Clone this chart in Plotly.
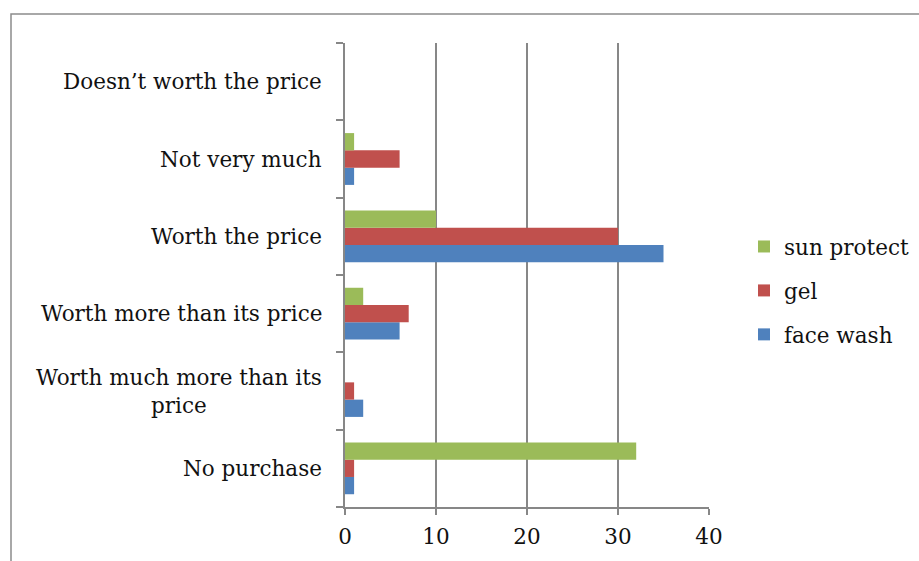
import plotly.graph_objects as go

# Survey responses: perceived value of each product line
categories = [
    "No purchase",
    "Worth much more than its price",
    "Worth more than its price",
    "Worth the price",
    "Not very much",
    "Doesn\u2019t worth the price",
]
category_labels = [
    "No purchase",
    "Worth much more than its<br>price",
    "Worth more than its price",
    "Worth the price",
    "Not very much",
    "Doesn\u2019t worth the price",
]
face_wash = [1, 2, 6, 35, 1, 0]
gel = [1, 1, 7, 30, 6, 0]
sun_protect = [32, 0, 2, 10, 1, 0]

x_ticks = [0, 10, 20, 30, 40]

FONT = "DejaVu Serif"
FSIZE = 21.5
AXIS_GREY = "#878787"
W, H = 919, 561

fig = go.Figure()
for name, vals, color, rank in [
    ("face wash", face_wash, "#4F81BD", 3),
    ("gel", gel, "#C0504D", 2),
    ("sun protect", sun_protect, "#9BBB59", 1),
]:
    fig.add_trace(go.Bar(
        y=categories, x=vals, name=name, orientation="h",
        marker=dict(color=color, line=dict(width=0)),
        legendgroup=name, legendrank=rank,
    ))

# category labels as annotations so the wrapped one is centred
for cat, lab in zip(categories, category_labels):
    fig.add_annotation(
        x=0, y=cat, xref="x", yref="y", text=lab, showarrow=False,
        xanchor="right", yanchor="middle", align="center", xshift=-21,
        font=dict(family=FONT, size=FSIZE, color="#111"),
    )

# outer frame
px0, px1, py0, py1 = 345.0, 709.0, 43.0, 507.0
def fx(p):
    return (p - px0) / (px1 - px0)
def fy(p):
    return (py1 - p) / (py1 - py0)

fig.add_shape(type="rect", xref="paper", yref="paper",
              x0=fx(11), x1=fx(930), y0=fy(575), y1=fy(14),
              line=dict(color="#8c8c8c", width=1.5), layer="below")

fig.update_layout(
    width=W, height=H,
    margin=dict(l=345, r=210, t=43, b=54, autoexpand=False),
    paper_bgcolor="white", plot_bgcolor="white",
    barmode="group", bargap=0.33, bargroupgap=0,
    font=dict(family=FONT, size=FSIZE, color="#111"),
    showlegend=True,
    legend=dict(
        xref="container", yref="container",
        x=744 / W, y=1 - 226 / H, xanchor="left", yanchor="top",
        traceorder="grouped", tracegroupgap=13,
        font=dict(family=FONT, size=FSIZE, color="#111"),
        bgcolor="rgba(0,0,0,0)",
    ),
    xaxis=dict(
        range=[0, 40], tickvals=x_ticks, ticktext=[str(v) for v in x_ticks],
        showgrid=True, gridcolor=AXIS_GREY, gridwidth=1.5,
        showline=True, linecolor=AXIS_GREY, linewidth=1.5,
        ticks="outside", ticklen=6, tickwidth=1.5, tickcolor=AXIS_GREY,
        zeroline=False, ticklabelstandoff=3, automargin=False,
        tickfont=dict(family=FONT, size=FSIZE, color="#111"),
        fixedrange=True,
    ),
    yaxis=dict(
        type="category", categoryorder="array", categoryarray=categories,
        showticklabels=False, showgrid=False, automargin=False,
        showline=True, linecolor=AXIS_GREY, linewidth=1.5,
        ticks="outside", ticklen=7, tickwidth=1.5, tickcolor=AXIS_GREY,
        tickson="boundaries", zeroline=False, fixedrange=True,
    ),
)

fig.write_html("out.html")
